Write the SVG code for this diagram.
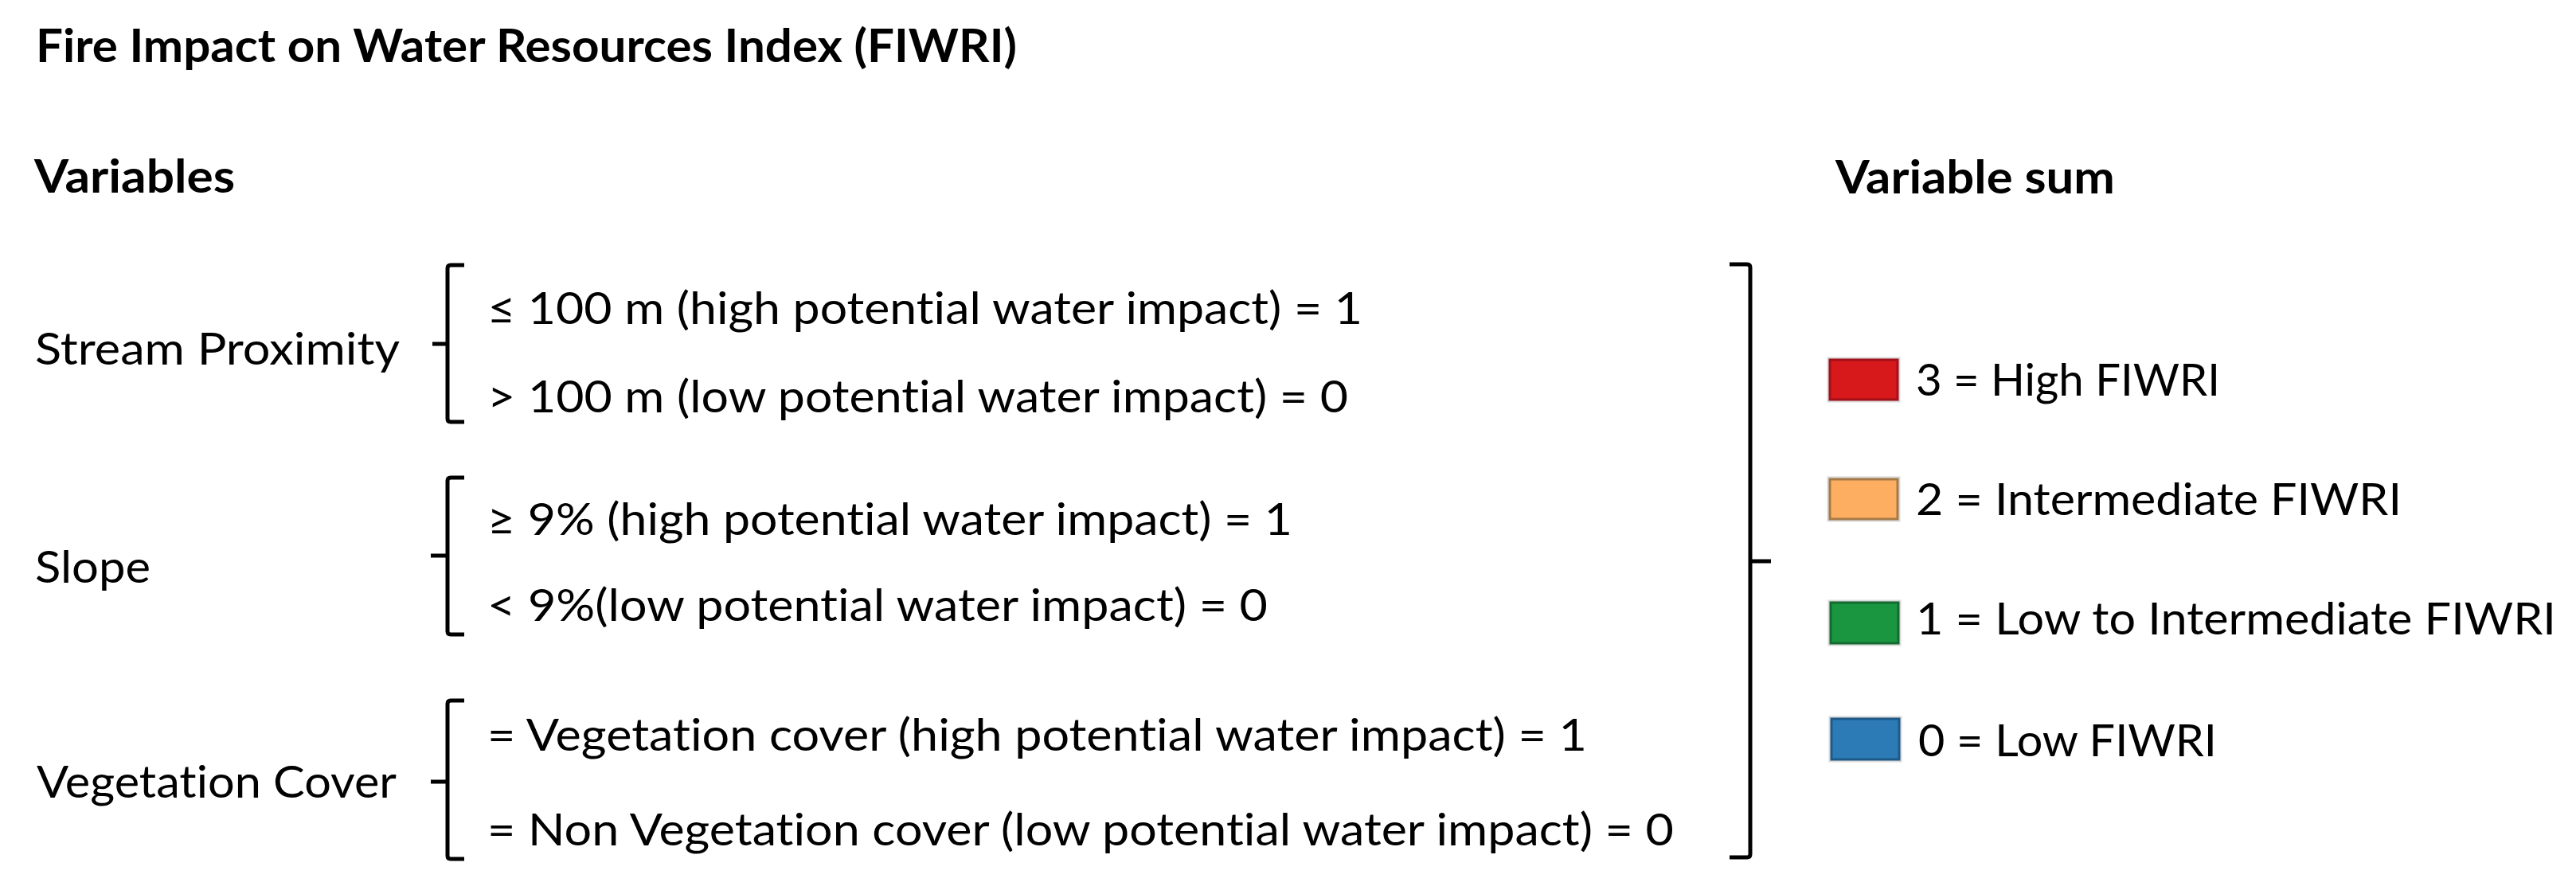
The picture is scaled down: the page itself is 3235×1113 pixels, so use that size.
<svg xmlns="http://www.w3.org/2000/svg" width="3235" height="1113" viewBox="0 0 3235 1113">
<style>
text{font-family:Lato,"Liberation Sans",sans-serif;fill:#000;font-size:57px;font-variant-ligatures:none}
.b{font-weight:bold}
.br{fill:none;stroke:#000;stroke-width:5;stroke-linejoin:round;stroke-linecap:butt}
.sh{fill:none;stroke:#d9d9d9;stroke-width:3}
</style>
<rect width="3235" height="1113" fill="#fff"/>
<g id="title"><text class="b" x="45" y="78" textLength="1232" lengthAdjust="spacingAndGlyphs">Fire Impact on Water Resources Index (FIWRI)</text></g>
<g id="hdr-variables"><text class="b" x="43" y="242" textLength="252" lengthAdjust="spacingAndGlyphs">Variables</text></g>
<g id="hdr-sum"><text class="b" x="2305" y="243" textLength="351" lengthAdjust="spacingAndGlyphs">Variable sum</text></g>

<g id="var-stream">
<text x="44" y="458" textLength="458" lengthAdjust="spacingAndGlyphs">Stream Proximity</text>
<text x="612" y="407" textLength="1099" lengthAdjust="spacingAndGlyphs">≤ 100 m (high potential water impact) = 1</text>
<text x="612" y="518" textLength="1081" lengthAdjust="spacingAndGlyphs">&gt; 100 m (low potential water impact) = 0</text>
</g>
<g id="var-slope">
<text x="44" y="732" textLength="145" lengthAdjust="spacingAndGlyphs">Slope</text>
<text x="612" y="672" textLength="1011" lengthAdjust="spacingAndGlyphs">≥ 9% (high potential water impact) = 1</text>
<text x="612" y="780" textLength="980" lengthAdjust="spacingAndGlyphs">&lt; 9%(low potential water impact) = 0</text>
</g>
<g id="var-veg">
<text x="46" y="1002" textLength="452" lengthAdjust="spacingAndGlyphs">Vegetation Cover</text>
<text x="612" y="943" textLength="1381" lengthAdjust="spacingAndGlyphs">= Vegetation cover (high potential water impact) = 1</text>
<text x="612" y="1062" textLength="1490" lengthAdjust="spacingAndGlyphs">= Non Vegetation cover (low potential water impact) = 0</text>
</g>

<g id="connectors">
<path class="br" d="M583,333 H566 Q562,333 562,337 V526 Q562,530 566,530 H583 M562,432 H543"/>
<path class="br" d="M583,600 H566 Q562,600 562,604 V793 Q562,797 566,797 H583 M562,698 H541"/>
<path class="br" d="M583,880 H566 Q562,880 562,884 V1075 Q562,1079 566,1079 H583 M562,982 H541"/>
<path class="br" d="M2172,332 H2194 Q2198,332 2198,336 V1073 Q2198,1077 2194,1077 H2172 M2198,705 H2224"/>
</g>

<g id="legend-3">
<rect class="sh" x="2296" y="450" width="89" height="54"/>
<rect x="2298" y="452" width="85" height="50" fill="#D7191C" stroke="#A3101A" stroke-width="3"/>
<text x="2406" y="497" textLength="382" lengthAdjust="spacingAndGlyphs">3 = High FIWRI</text>
</g>
<g id="legend-2">
<rect class="sh" x="2296" y="600" width="89" height="54"/>
<rect x="2298" y="602" width="85" height="50" fill="#FDAE61" stroke="#A57A48" stroke-width="3"/>
<text x="2406" y="647" textLength="610" lengthAdjust="spacingAndGlyphs">2 = Intermediate FIWRI</text>
</g>
<g id="legend-1">
<rect class="sh" x="2297" y="755" width="89" height="55"/>
<rect x="2299" y="757" width="85" height="51" fill="#1A9641" stroke="#146B30" stroke-width="3"/>
<text x="2406" y="797" textLength="804" lengthAdjust="spacingAndGlyphs">1 = Low to Intermediate FIWRI</text>
</g>
<g id="legend-0">
<rect class="sh" x="2298" y="901" width="89" height="55"/>
<rect x="2300" y="903" width="85" height="51" fill="#2C7BB6" stroke="#1E5A87" stroke-width="3"/>
<text x="2409" y="950" textLength="375" lengthAdjust="spacingAndGlyphs">0 = Low FIWRI</text>
</g>
</svg>
